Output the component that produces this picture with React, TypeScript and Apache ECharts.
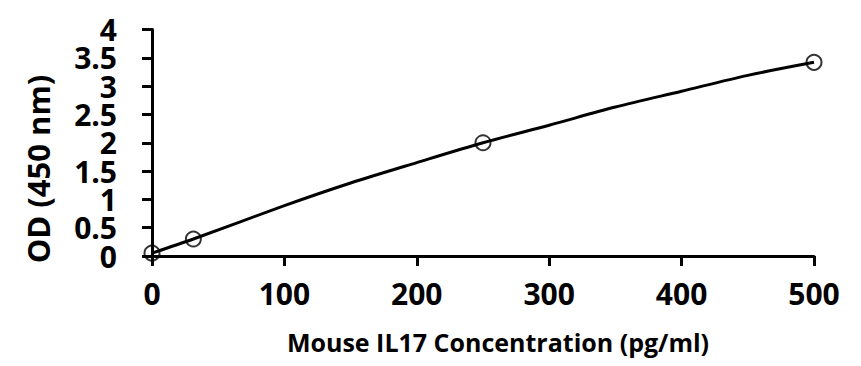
import React, { useEffect, useRef } from "react";
import * as echarts from "echarts";

const concentrations = [0, 31.25, 250, 500];
const odValues = [0.05, 0.3, 2.0, 3.42];
const curveX = [0, 31.25, 100, 150, 200, 250, 300, 350, 400, 450, 500];
const curveY = [0.05, 0.3, 0.89, 1.29, 1.65, 2.0, 2.31, 2.63, 2.91, 3.19, 3.42];
const xTitle = "Mouse IL17 Concentration (pg/ml)";
const yTitle = "OD (450 nm)";

const FONT = "'Open Sans', 'Noto Sans', sans-serif";

const isWhole = (v: number) => Math.abs(v - Math.round(v)) < 1e-9;

export default function App() {
  const ref = useRef<HTMLDivElement>(null);
  useEffect(() => {
    document.body.style.margin = "0";
    if (!ref.current) return;
    const chart = echarts.init(ref.current, undefined, { renderer: "svg" });
    const yLabelStyle = {
      color: "#000",
      fontFamily: FONT,
      fontWeight: "bold",
      fontSize: 30,
      lineHeight: 28,
      margin: 35,
    };
    chart.setOption({
      animation: false,
      backgroundColor: "#ffffff",
      grid: { left: 152, right: 47, top: 29.5, bottom: 110, containLabel: false },
      xAxis: {
        type: "value",
        min: 0,
        max: 500,
        interval: 100,
        splitLine: { show: false },
        axisLine: { show: true, onZero: false, lineStyle: { color: "#000", width: 3 } },
        axisTick: { show: true, length: 10, lineStyle: { color: "#000", width: 3 } },
        axisLabel: { color: "#000", fontFamily: FONT, fontWeight: "bold", fontSize: 30, margin: 22, showMinLabel: true, showMaxLabel: true },
      },
      yAxis: [
        {
          type: "value",
          position: "left",
          min: 0,
          max: 4,
          interval: 0.5,
          splitLine: { show: false },
          axisLine: { show: true, onZero: false, lineStyle: { color: "#000", width: 3 } },
          axisTick: { show: true, length: 10, lineStyle: { color: "#000", width: 3 } },
          axisLabel: {
            ...yLabelStyle,
            showMinLabel: true,
            showMaxLabel: true,
            formatter: (v: number) => (isWhole(v) ? String(v) : ""),
          },
        },
        {
          type: "value",
          position: "left",
          offset: 0,
          min: 0,
          max: 4,
          interval: 0.5,
          splitLine: { show: false },
          axisLine: { show: false },
          axisTick: { show: false },
          axisLabel: {
            ...yLabelStyle,
            showMinLabel: false,
            showMaxLabel: false,
            formatter: (v: number) => (isWhole(v) ? "" : String(v)),
          },
        },
      ],
      graphic: [
        {
          type: "text",
          x: 498,
          y: 342,
          style: {
            text: xTitle,
            fill: "#000",
            font: `bold 25px ${FONT}`,
            textAlign: "center",
            textVerticalAlign: "middle",
          },
        },
        {
          type: "text",
          x: 38,
          y: 169,
          rotation: Math.PI / 2,
          style: {
            text: yTitle,
            fill: "#000",
            font: `bold 31px ${FONT}`,
            textAlign: "center",
            textVerticalAlign: "middle",
          },
        },
      ],
      series: [
        {
          type: "line",
          yAxisIndex: 0,
          data: curveX.map((x, i) => [x, curveY[i]]),
          smooth: 0.3,
          showSymbol: false,
          symbol: "none",
          lineStyle: { color: "#000", width: 3 },
          z: 2,
        },
        {
          type: "scatter",
          yAxisIndex: 0,
          data: concentrations.map((x, i) => [x, odValues[i]]),
          symbol: "circle",
          symbolSize: 15,
          itemStyle: { color: "rgba(255,255,255,0)", borderColor: "#000", borderWidth: 2 },
          z: 3,
        },
      ],
    });
    return () => chart.dispose();
  }, []);
  return <div ref={ref} style={{ width: 861, height: 366 }} />;
}
